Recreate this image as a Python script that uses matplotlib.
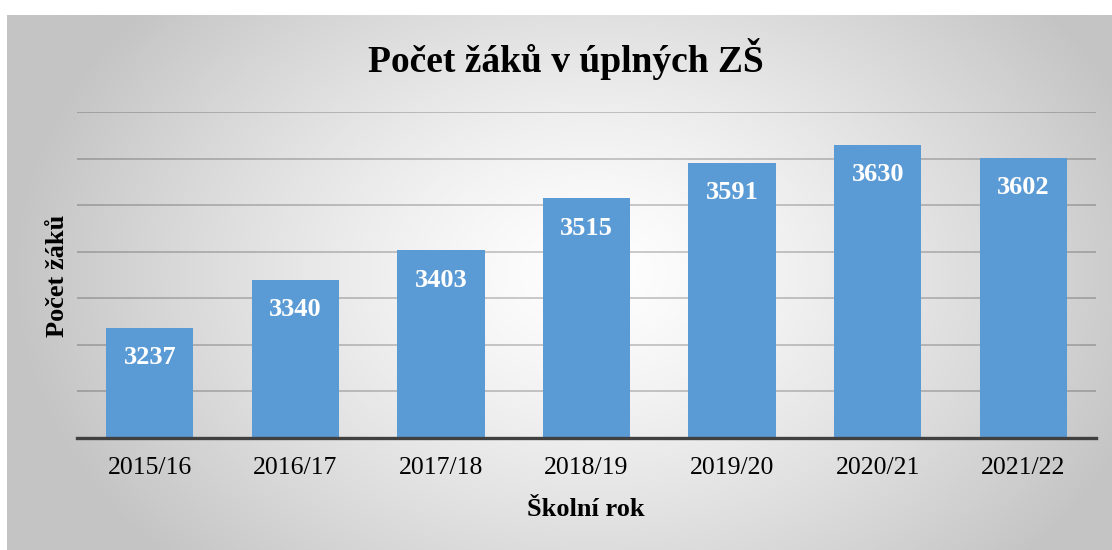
import numpy as np
import matplotlib
matplotlib.use("Agg")
import matplotlib.pyplot as plt

categories = ["2015/16", "2016/17", "2017/18", "2018/19", "2019/20", "2020/21", "2021/22"]
values = [3237, 3340, 3403, 3515, 3591, 3630, 3602]
title = "Počet žáků v úplných ZŠ"
xlabel = "Školní rok"
ylabel = "Počet žáků"

plt.rcParams['font.family'] = ['Liberation Serif', 'DejaVu Serif']

W, H = 1112, 550
fig = plt.figure(figsize=(W / 100, H / 100), dpi=100, facecolor="white")

# background radial gradient panel
bg = fig.add_axes([7 / W, 0, 1 - 7 / W, (H - 15) / H])
bg.set_axis_off()
ny, nx = 300, 600
yy, xx = np.mgrid[0:ny, 0:nx]
cx, cy = nx * 0.53, ny * 0.48
r = np.sqrt(((xx - cx) / (nx * 0.5)) ** 2 + ((yy - cy) / (ny * 0.75)) ** 2)
g = np.clip(255 - 55 * r ** 1.3, 196, 255) / 255.0
img = np.dstack([g, g, g])
bg.imshow(img, aspect="auto", extent=[0, 1, 0, 1], origin="upper")
bg.set_xlim(0, 1)
bg.set_ylim(0, 1)

# plot axes
left, right = 77 / W, 1096 / W
bottom, top = (H - 438) / H, (H - 112) / H
ax = fig.add_axes([left, bottom, right - left, top - bottom])
ax.patch.set_alpha(0)

x = np.arange(len(categories))
bars = ax.bar(x, values, width=0.6, color="#5B9BD5", zorder=3)
ax.set_xlim(-0.5, len(categories) - 0.5)
ax.set_ylim(3000, 3700)
ax.set_yticks(np.arange(3000, 3701, 100))
ax.yaxis.grid(True, color="black", alpha=0.2, linewidth=1.4, zorder=1)
ax.set_axisbelow(True)
ax.tick_params(axis="y", length=0, labelleft=False)
ax.set_xticks(x)
ax.set_xticklabels(categories, fontsize=18.5)
ax.tick_params(axis="x", length=0, pad=14)
for s in ["top", "right", "left"]:
    ax.spines[s].set_visible(False)
ax.spines["bottom"].set_color("#404040")
ax.spines["bottom"].set_linewidth(2.4)
ax.spines["bottom"].set_zorder(4)

for xi, v in zip(x, values):
    ax.annotate(str(v), xy=(xi, v), xytext=(0, -21.5), textcoords="offset points",
                ha="center", va="center", color="white", fontsize=19,
                fontweight="bold", zorder=5)

fig.text(566 / W, (H - 59) / H, title, ha="center", va="center",
         fontsize=27, fontweight="bold")
fig.text(586 / W, (H - 510) / H, xlabel, ha="center", va="center",
         fontsize=19, fontweight="bold")
fig.text(58 / W, (H - 276) / H, ylabel, ha="center", va="center",
         rotation=90, fontsize=19, fontweight="bold")

fig.savefig("out.png", dpi=100, facecolor="white")
